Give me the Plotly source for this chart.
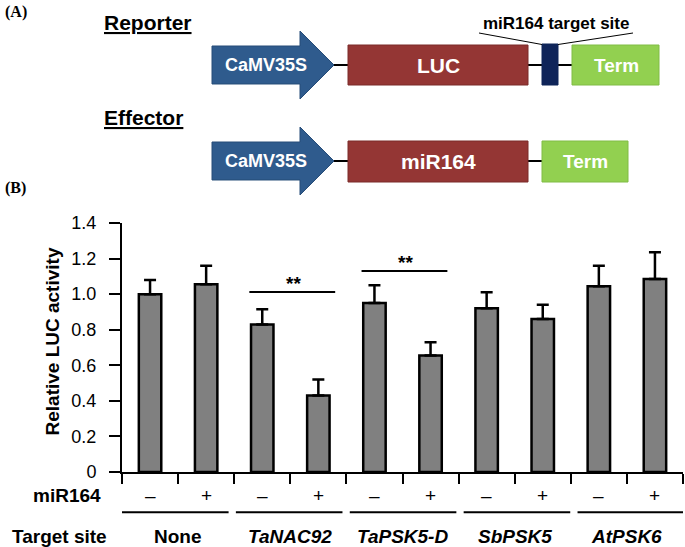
import plotly.graph_objects as go

# ---------------- data ----------------
groups = ["None", "TaNAC92", "TaPSK5-D", "SbPSK5", "AtPSK6"]
mir164_signs = ["\u2013", "+"]
values = [1.00, 1.055, 0.83, 0.43, 0.95, 0.655, 0.92, 0.86, 1.045, 1.085]
errors = [0.08, 0.105, 0.085, 0.09, 0.10, 0.075, 0.09, 0.08, 0.115, 0.15]
ytick_vals = [0, 0.2, 0.4, 0.6, 0.8, 1.0, 1.2, 1.4]
ytick_text = ["0", "0.2", "0.4", "0.6", "0.8", "1.0", "1.2", "1.4"]
sig_pairs = [(2, 3), (4, 5)]
sig_heights = [1.012, 1.13]
sig_labels = ["**", "**"]

# ---------------- layout geometry ----------------
WIDTH, HEIGHT = 685, 547
ML, MR, MT, MB = 122, 2, 223, 75
PW = WIDTH - ML - MR
PH = HEIGHT - MT - MB
FONT = "Liberation Sans, Arial, sans-serif"
SERIF = "Liberation Serif, Times New Roman, serif"


def PX(x):
    return (x - ML) / PW


def PY(y):
    return (HEIGHT - MB - y) / PH


n = len(values)
xs = list(range(n))

fig = go.Figure()
fig.add_trace(go.Bar(
    x=xs, y=values, width=0.4,
    marker=dict(color="#808080", line=dict(color="black", width=2.5)),
    error_y=dict(type="data", array=errors, arrayminus=[0] * n, symmetric=False,
                 color="black", thickness=2.5, width=6),
    showlegend=False,
))

shapes = []
annotations = []

# significance brackets
for (i, j), h, lab in zip(sig_pairs, sig_heights, sig_labels):
    shapes.append(dict(type="line", xref="x", yref="y", x0=i - 0.23, x1=j + 0.3,
                       y0=h, y1=h, line=dict(color="black", width=2)))
    annotations.append(dict(xref="x", yref="y", x=(i + j) / 2 + 0.06, y=h - 0.022,
                            text="<b>%s</b>" % lab, showarrow=False, yanchor="bottom",
                            font=dict(family=FONT, size=19, color="black")))

# miR164 row signs
for k in xs:
    annotations.append(dict(xref="x", yref="paper", x=k, y=PY(495), text=mir164_signs[k % 2],
                            showarrow=False, yanchor="middle",
                            font=dict(family=FONT, size=19, color="black")))
# group lines and names
for g, name in enumerate(groups):
    s = -0.5 + g * 2.03
    shapes.append(dict(type="line", xref="x", yref="paper", x0=s, x1=s + 1.9,
                       y0=PY(512.3), y1=PY(512.3), line=dict(color="black", width=2)))
    txt = "<b>%s</b>" % name if name == "None" else "<b><i>%s</i></b>" % name
    annotations.append(dict(xref="x", yref="paper", x=2 * g + 0.5, y=PY(536), text=txt,
                            showarrow=False, yanchor="middle",
                            font=dict(family=FONT, size=19, color="black")))

annotations += [
    dict(xref="paper", yref="paper", x=PX(103), y=PY(495), text="<b>miR164</b>",
         xanchor="right", yanchor="middle", showarrow=False,
         font=dict(family=FONT, size=19, color="black")),
    dict(xref="paper", yref="paper", x=PX(109), y=PY(536), text="<b>Target site</b>",
         xanchor="right", yanchor="middle", showarrow=False,
         font=dict(family=FONT, size=19, color="black")),
    dict(xref="paper", yref="paper", x=PX(52), y=PY(341.5), text="<b>Relative LUC activity</b>",
         textangle=-90, xanchor="center", yanchor="middle", showarrow=False,
         font=dict(family=FONT, size=19, color="black")),
    dict(xref="paper", yref="paper", x=PX(3), y=PY(12.5), text="<b>(A)</b>",
         xanchor="left", yanchor="middle", showarrow=False,
         font=dict(family=SERIF, size=16, color="black")),
    dict(xref="paper", yref="paper", x=PX(3), y=PY(187.5), text="<b>(B)</b>",
         xanchor="left", yanchor="middle", showarrow=False,
         font=dict(family=SERIF, size=16, color="black")),
    dict(xref="paper", yref="paper", x=PX(102), y=PY(22), text="<b><u>Reporter</u></b>",
         xanchor="left", yanchor="middle", showarrow=False,
         font=dict(family=FONT, size=21, color="black")),
    dict(xref="paper", yref="paper", x=PX(102), y=PY(117.5), text="<b><u>Effector</u></b>",
         xanchor="left", yanchor="middle", showarrow=False,
         font=dict(family=FONT, size=21, color="black")),
    dict(xref="paper", yref="paper", x=PX(556), y=PY(23), text="<b>miR164 target site</b>",
         xanchor="center", yanchor="middle", showarrow=False,
         font=dict(family=FONT, size=17, color="black")),
]

BLUE, BLUE_L = "#2F5B8D", "#264C78"
RED, RED_L = "#943634", "#7B2B29"
NAVY = "#0F2459"
GREEN, GREEN_L = "#92D050", "#80BC45"


def arrow(cy):
    x0, x1, tip = 212, 300, 334
    b0, b1 = cy - 19, cy + 19
    h0, h1 = cy - 34, cy + 34
    pts = [(x0, b0), (x1, b0), (x1, h0), (tip, cy), (x1, h1), (x1, b1), (x0, b1)]
    path = "M " + " L ".join("%f,%f" % (PX(a), PY(b)) for a, b in pts) + " Z"
    return dict(type="path", xref="paper", yref="paper", path=path,
                fillcolor=BLUE, line=dict(color=BLUE_L, width=1), layer="above")


def box(x0, x1, y0, y1, fill, edge):
    return dict(type="rect", xref="paper", yref="paper", x0=PX(x0), x1=PX(x1),
                y0=PY(y0), y1=PY(y1), fillcolor=fill, line=dict(color=edge, width=1), layer="above")


def hline(x0, x1, y, w=2):
    return dict(type="line", xref="paper", yref="paper", x0=PX(x0), x1=PX(x1),
                y0=PY(y), y1=PY(y), line=dict(color="black", width=w), layer="above")


def label(x, y, text, size):
    return dict(xref="paper", yref="paper", x=PX(x), y=PY(y), text="<b>%s</b>" % text,
                xanchor="center", yanchor="middle", showarrow=False,
                font=dict(family=FONT, size=size, color="white"))


# reporter construct
rc = 65
shapes += [hline(330, 350, rc), hline(526, 544, rc), hline(556, 574, rc),
           arrow(rc), box(348, 528, 45, 85, RED, RED_L), box(542, 558, 44, 85, NAVY, NAVY),
           box(572, 659, 45, 85, GREEN, GREEN_L),
           dict(type="line", xref="paper", yref="paper", x0=PX(479), y0=PY(33), x1=PX(542), y1=PY(44.5),
                line=dict(color="black", width=1)),
           dict(type="line", xref="paper", yref="paper", x0=PX(633), y0=PY(33), x1=PX(558), y1=PY(44.5),
                line=dict(color="black", width=1))]
annotations += [label(266, rc, "CaMV35S", 18), label(438, rc, "LUC", 21), label(616, rc, "Term", 19)]

# effector construct
ec = 161
shapes += [hline(330, 350, ec), hline(526, 544, ec),
           arrow(ec), box(348, 528, 141, 182, RED, RED_L), box(542, 628, 141, 182, GREEN, GREEN_L)]
annotations += [label(266, ec, "CaMV35S", 18), label(438, ec, "miR164", 21), label(585, ec, "Term", 19)]

fig.update_layout(
    width=WIDTH, height=HEIGHT,
    margin=dict(l=ML, r=MR, t=MT, b=MB, pad=0),
    paper_bgcolor="white", plot_bgcolor="white",
    font=dict(family=FONT, color="black"),
    shapes=shapes, annotations=annotations,
    bargap=0.6,
    xaxis=dict(range=[-0.5, n - 0.5], tickvals=[k - 0.5 for k in range(n + 1)],
               showticklabels=False, ticks="outside", ticklen=10, tickwidth=2, tickcolor="black",
               showline=True, linecolor="black", linewidth=2, showgrid=False, zeroline=False,
               fixedrange=True),
    yaxis=dict(range=[0, 1.4], tickvals=ytick_vals, ticktext=ytick_text,
               ticks="outside", ticklen=11, tickwidth=2, tickcolor="black",
               tickfont=dict(family=FONT, size=18, color="black"), ticklabelstandoff=9,
               showline=True, linecolor="black", linewidth=2, showgrid=False, zeroline=False,
               fixedrange=True),
)

fig.write_html("out.html", config={"displayModeBar": False},
               post_script="document.body.style.margin='0px';document.body.style.overflow='hidden';")
